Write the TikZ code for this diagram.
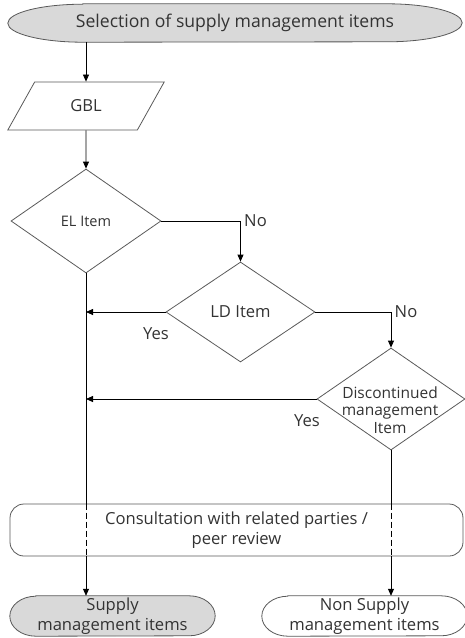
\documentclass[tikz,border=0pt]{standalone}
\usepackage{fontspec}
\setmainfont{Open Sans}
\usetikzlibrary{shapes.geometric, arrows.meta, positioning, calc, backgrounds}
\definecolor{edgegray}{HTML}{595959}
\definecolor{termfill}{HTML}{D9D9D9}
\definecolor{inkgray}{HTML}{333333}
\tikzset{
  term/.style={
    rectangle, inner sep=0pt, align=center, text=inkgray,
    font=\fontsize{16.6}{20}\selectfont
  },
  iobox/.style={
    trapezium, trapezium left angle=56, trapezium right angle=124,
    trapezium stretches=true, minimum width=157pt, minimum height=48pt,
    inner sep=0pt, draw=edgegray, line width=0.8pt, text=inkgray,
    font=\fontsize{16.6}{20}\selectfont
  },
  decision/.style={
    diamond, inner sep=0pt, align=center, draw=edgegray, line width=0.8pt,
    text=inkgray, font=\fontsize{16.6}{20}\selectfont
  },
  process/.style={
    rectangle, rounded corners=14pt, align=center, draw=edgegray,
    line width=0.8pt, text=inkgray, font=\fontsize{16.6}{20}\selectfont
  },
  tag/.style={text=inkgray, font=\fontsize{16.6}{20}\selectfont},
  flow/.style={-{Triangle[length=7pt,width=6pt]}, line width=0.8pt},
  link/.style={line width=0.8pt},
  brokenlink/.style={line width=0.8pt, dash pattern=on 6pt off 3pt}
}
% outline of a terminal: node, end radius, half height, fill
\newcommand{\termoutline}[4]{%
  \begin{scope}[on background layer]
    \draw[draw=edgegray, line width=0.8pt, fill=#4]
      ([xshift=#2]#1.north west) -- ([xshift=-#2]#1.north east)
      arc[start angle=90, end angle=-90, x radius=#2, y radius=#3]
      -- ([xshift=#2]#1.south west)
      arc[start angle=270, end angle=90, x radius=#2, y radius=#3] -- cycle;
  \end{scope}}

\begin{document}
\begin{tikzpicture}[x=1pt, y=-1pt]
  \useasboundingbox (0,0) rectangle (465,638);

  % Start
  \node[term, minimum width=454pt, minimum height=38pt,
        font=\fontsize{17.6}{20}\selectfont] (select) at (235,23)
    {Selection of supply management items};
  \termoutline{select}{75pt}{19pt}{termfill}
  \node[iobox] (gbl) at (86,106) {GBL};

  % Decisions
  \node[decision, minimum width=150pt, minimum height=104pt,
        font=\fontsize{14.5}{17}\selectfont] (el) at (86,221) {EL Item};
  \node[decision, minimum width=149pt, minimum height=100pt] (ld) at (240.5,312) {LD Item};
  \node[decision, minimum width=148pt, minimum height=102pt] (disc) at (391,399) {};
  \node[tag, align=center, font=\fontsize{15.5}{17.5}\selectfont] (disctext) at (390,410)
    {Discontinued\\management\\Item};

  % Review and results
  \node[process, minimum width=453pt, minimum height=52pt] (consult) at (236.5,530)
    {Consultation with related parties /\\peer review};
  \node[term, minimum width=205pt, minimum height=40pt] (supply) at (112.5,616)
    {Supply\\management items};
  \termoutline{supply}{26pt}{20pt}{termfill}
  \node[term, minimum width=205pt, minimum height=40pt] (nonsupply) at (364.5,616)
    {Non Supply\\management items};
  \termoutline{nonsupply}{26pt}{20pt}{white}

  % Arrows
  \draw[flow] (select.south -| gbl.north) -- (gbl.north);
  \draw[flow] (gbl.south) -- (el.north);
  \draw[flow] (el.east) -| node[tag, pos=0.5, right]{No} (ld.north);
  \draw[flow] (ld.west) -- node[tag, at start, anchor=north east, xshift=7pt, yshift=-11.5pt]{Yes}
    (ld.west -| el.south);
  \draw[flow] (ld.east) -| node[tag, pos=0.5, right]{No} (disc.north);
  \draw[flow] (disc.west) -- node[tag, at start, anchor=north east, xshift=7pt, yshift=-11.5pt]{Yes}
    (disc.west -| el.south);
  \draw[link] (el.south) -- (el.south |- consult.north);
  \draw[brokenlink] (el.south |- consult.north) -- (el.south |- consult.south);
  \draw[flow] (el.south |- consult.south) -- (el.south |- supply.north);
  \draw[link] (disc.south) -- (disc.south |- consult.north);
  \draw[brokenlink] (disc.south |- consult.north) -- (disc.south |- consult.south);
  \draw[flow] (disc.south |- consult.south) -- (disc.south |- nonsupply.north);

\end{tikzpicture}
\end{document}
